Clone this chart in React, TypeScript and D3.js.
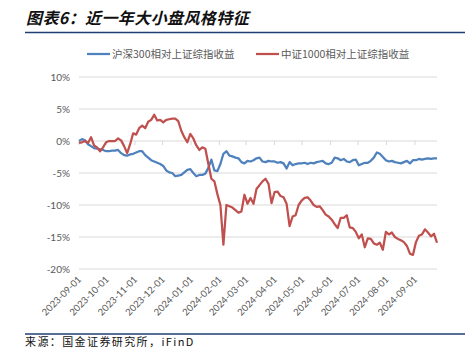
import React from "react";
import * as d3 from "d3";

const TITLE = "图表6：近一年大小盘风格特征";
const SOURCE = "来源：国金证券研究所，iFinD";
const SERIES_NAMES = ["沪深300相对上证综指收益", "中证1000相对上证综指收益"];
const START_DATE = "2023-09-01";
const END_DATE = "2024-09-25";
const X_TICKS = [
  "2023-09-01", "2023-10-01", "2023-11-01", "2023-12-01", "2024-01-01", "2024-02-01",
  "2024-03-01", "2024-04-01", "2024-05-01", "2024-06-01", "2024-07-01", "2024-08-01", "2024-09-01",
];
const Y_TICKS = [10, 5, 0, -5, -10, -15, -20];

// 沪深300相对上证综指收益 (%)
const HS300 = [
  0.0, 0.3, 0.1, -0.5, -0.8, -1.1, -1.2, -1.3, -1.4, -1.6,
  -1.6, -1.5, -1.5, -1.4, -1.9, -2.2, -2.3, -2.1, -2.0, -1.8,
  -1.6, -1.6, -2.2, -2.6, -3.0, -3.2, -3.4, -3.6, -3.9, -4.6,
  -4.9, -5.0, -5.5, -5.4, -5.3, -4.9, -4.5, -4.4, -5.0, -5.5,
  -5.3, -5.3, -5.1, -4.2, -2.9, -4.6, -4.7, -3.6, -2.0, -1.6,
  -2.3, -2.4, -2.6, -2.7, -3.3, -3.5, -3.1, -3.2, -3.0, -2.7,
  -2.6, -3.2, -3.3, -3.1, -3.2, -3.2, -3.4, -3.3, -3.5, -4.3,
  -3.3, -3.8, -3.6, -3.5, -3.5, -3.4, -3.6, -3.4, -3.5, -3.3,
  -3.2, -3.1, -3.5, -3.6, -3.4, -2.6, -2.7, -3.0, -2.8, -3.2,
  -3.3, -3.0, -2.9, -3.8, -3.6, -3.4, -3.4, -3.1, -2.6, -1.8,
  -2.0, -2.5, -3.0, -3.2, -3.1, -3.3, -3.4, -3.5, -3.3, -3.1,
  -3.5, -3.0, -3.0, -2.8, -2.9, -2.8, -2.7, -2.8, -2.7, -2.7,
];

// 中证1000相对上证综指收益 (%)
const CSI1000 = [
  -0.3, -0.2, 0.0, -0.3, 0.6, -0.7, -1.0, -1.6, -1.0, -0.2,
  0.0, 0.0, 0.0, 0.4, 0.1, -0.8, -1.9, -0.5, 1.2, 1.0,
  2.0, 2.4, 2.0, 3.0, 3.3, 4.1, 3.2, 3.3, 2.9, 3.3,
  3.4, 3.5, 3.5, 3.1, 1.6, 0.6, -0.2, 1.1, 0.4, -0.7,
  -1.4, -1.0, -1.2, -3.6, -5.9, -6.3, -8.3, -10.0, -16.2, -10.0,
  -10.2, -10.4, -10.8, -11.2, -11.0, -8.4, -9.8, -8.9, -9.8, -7.5,
  -6.9, -6.3, -5.9, -6.7, -9.7, -8.0, -7.9, -8.6, -8.8, -9.8,
  -13.3, -11.8, -11.6, -10.0, -9.3, -8.9, -8.8, -9.3, -10.0, -10.3,
  -10.2, -10.8, -11.5, -11.8, -12.3, -13.0, -13.6, -12.0, -12.0, -11.6,
  -13.5, -13.6, -14.2, -15.2, -14.6, -16.6, -15.2, -15.3, -16.0, -16.2,
  -15.9, -17.0, -14.2, -14.6, -14.3, -15.0, -15.3, -15.5, -15.8, -16.4,
  -17.6, -17.8, -15.8, -14.8, -14.6, -13.8, -14.3, -14.9, -14.5, -15.9,
];

const COLORS = ["#4F81BD", "#C0504D"];

export default function App() {
  const W = 465, H = 356;
  const parse = d3.timeParse("%Y-%m-%d");
  const t0 = parse(START_DATE)!;
  const t1 = parse(END_DATE)!;
  const x = d3.scaleTime().domain([t0, t1]).range([79, 437]);
  const y = d3.scaleLinear().domain([-20, 10]).range([269, 77]);
  const dateAt = (i: number, n: number) => new Date(t0.getTime() + (i * (t1.getTime() - t0.getTime())) / (n - 1));
  const line = (vals: number[]) =>
    d3.line<number>().x((_, i) => x(dateAt(i, vals.length))).y((v) => y(v))(vals) || "";
  const cjk = "'Noto Sans CJK SC', sans-serif";
  const lat = "Lato, 'Noto Sans', sans-serif";
  return (
    <svg width={W} height={H} style={{ position: "absolute", left: 0, top: 0, background: "#fff" }}>
      <text x={26} y={24} fontFamily={cjk} fontSize={16} fontStyle="italic" fontWeight="bold" fill="#111" letterSpacing={0.4}>
        {TITLE}
      </text>
      <line x1={25} x2={465} y1={32.5} y2={32.5} stroke="#1F3F73" strokeWidth={1.5} />
      {Y_TICKS.map((t) => (
        <g key={t}>
          <line x1={79} x2={437} y1={y(t)} y2={y(t)} stroke="#D9D9D9" strokeWidth={1} />
          <text x={70} y={y(t)} dy="0.35em" textAnchor="end" fontFamily={lat} fontSize={10} fill="#595959">
            {t + "%"}
          </text>
        </g>
      ))}
      {X_TICKS.map((s) => {
        const px = x(parse(s)!);
        return (
          <g key={s}>
            <line x1={px} x2={px} y1={y(0)} y2={y(0) + 4} stroke="#D9D9D9" strokeWidth={1} />
            <text
              transform={`translate(${px + 3},${280}) rotate(-45)`}
              textAnchor="end"
              fontFamily={lat}
              fontSize={9.5}
              fill="#595959"
            >
              {s}
            </text>
          </g>
        );
      })}
      <path d={line(HS300)} fill="none" stroke={COLORS[0]} strokeWidth={2.25} strokeLinejoin="round" />
      <path d={line(CSI1000)} fill="none" stroke={COLORS[1]} strokeWidth={2.25} strokeLinejoin="round" />
      {SERIES_NAMES.map((n, i) => {
        const lx = i === 0 ? 87 : 256;
        return (
          <g key={n}>
            <line x1={lx} x2={lx + 23} y1={54} y2={54} stroke={COLORS[i]} strokeWidth={2.25} />
            <text x={lx + 25} y={54} dy="0.35em" fontFamily={cjk} fontSize={10.5} fill="#595959">
              {n}
            </text>
          </g>
        );
      })}
      <line x1={25} x2={465} y1={334} y2={334} stroke="#1F3F73" strokeWidth={1.5} />
      <text x={25} y={345} dy="0.1em" fontFamily={cjk} fontSize={11} fill="#111" letterSpacing={1.4}>
        {SOURCE}
      </text>
    </svg>
  );
}
